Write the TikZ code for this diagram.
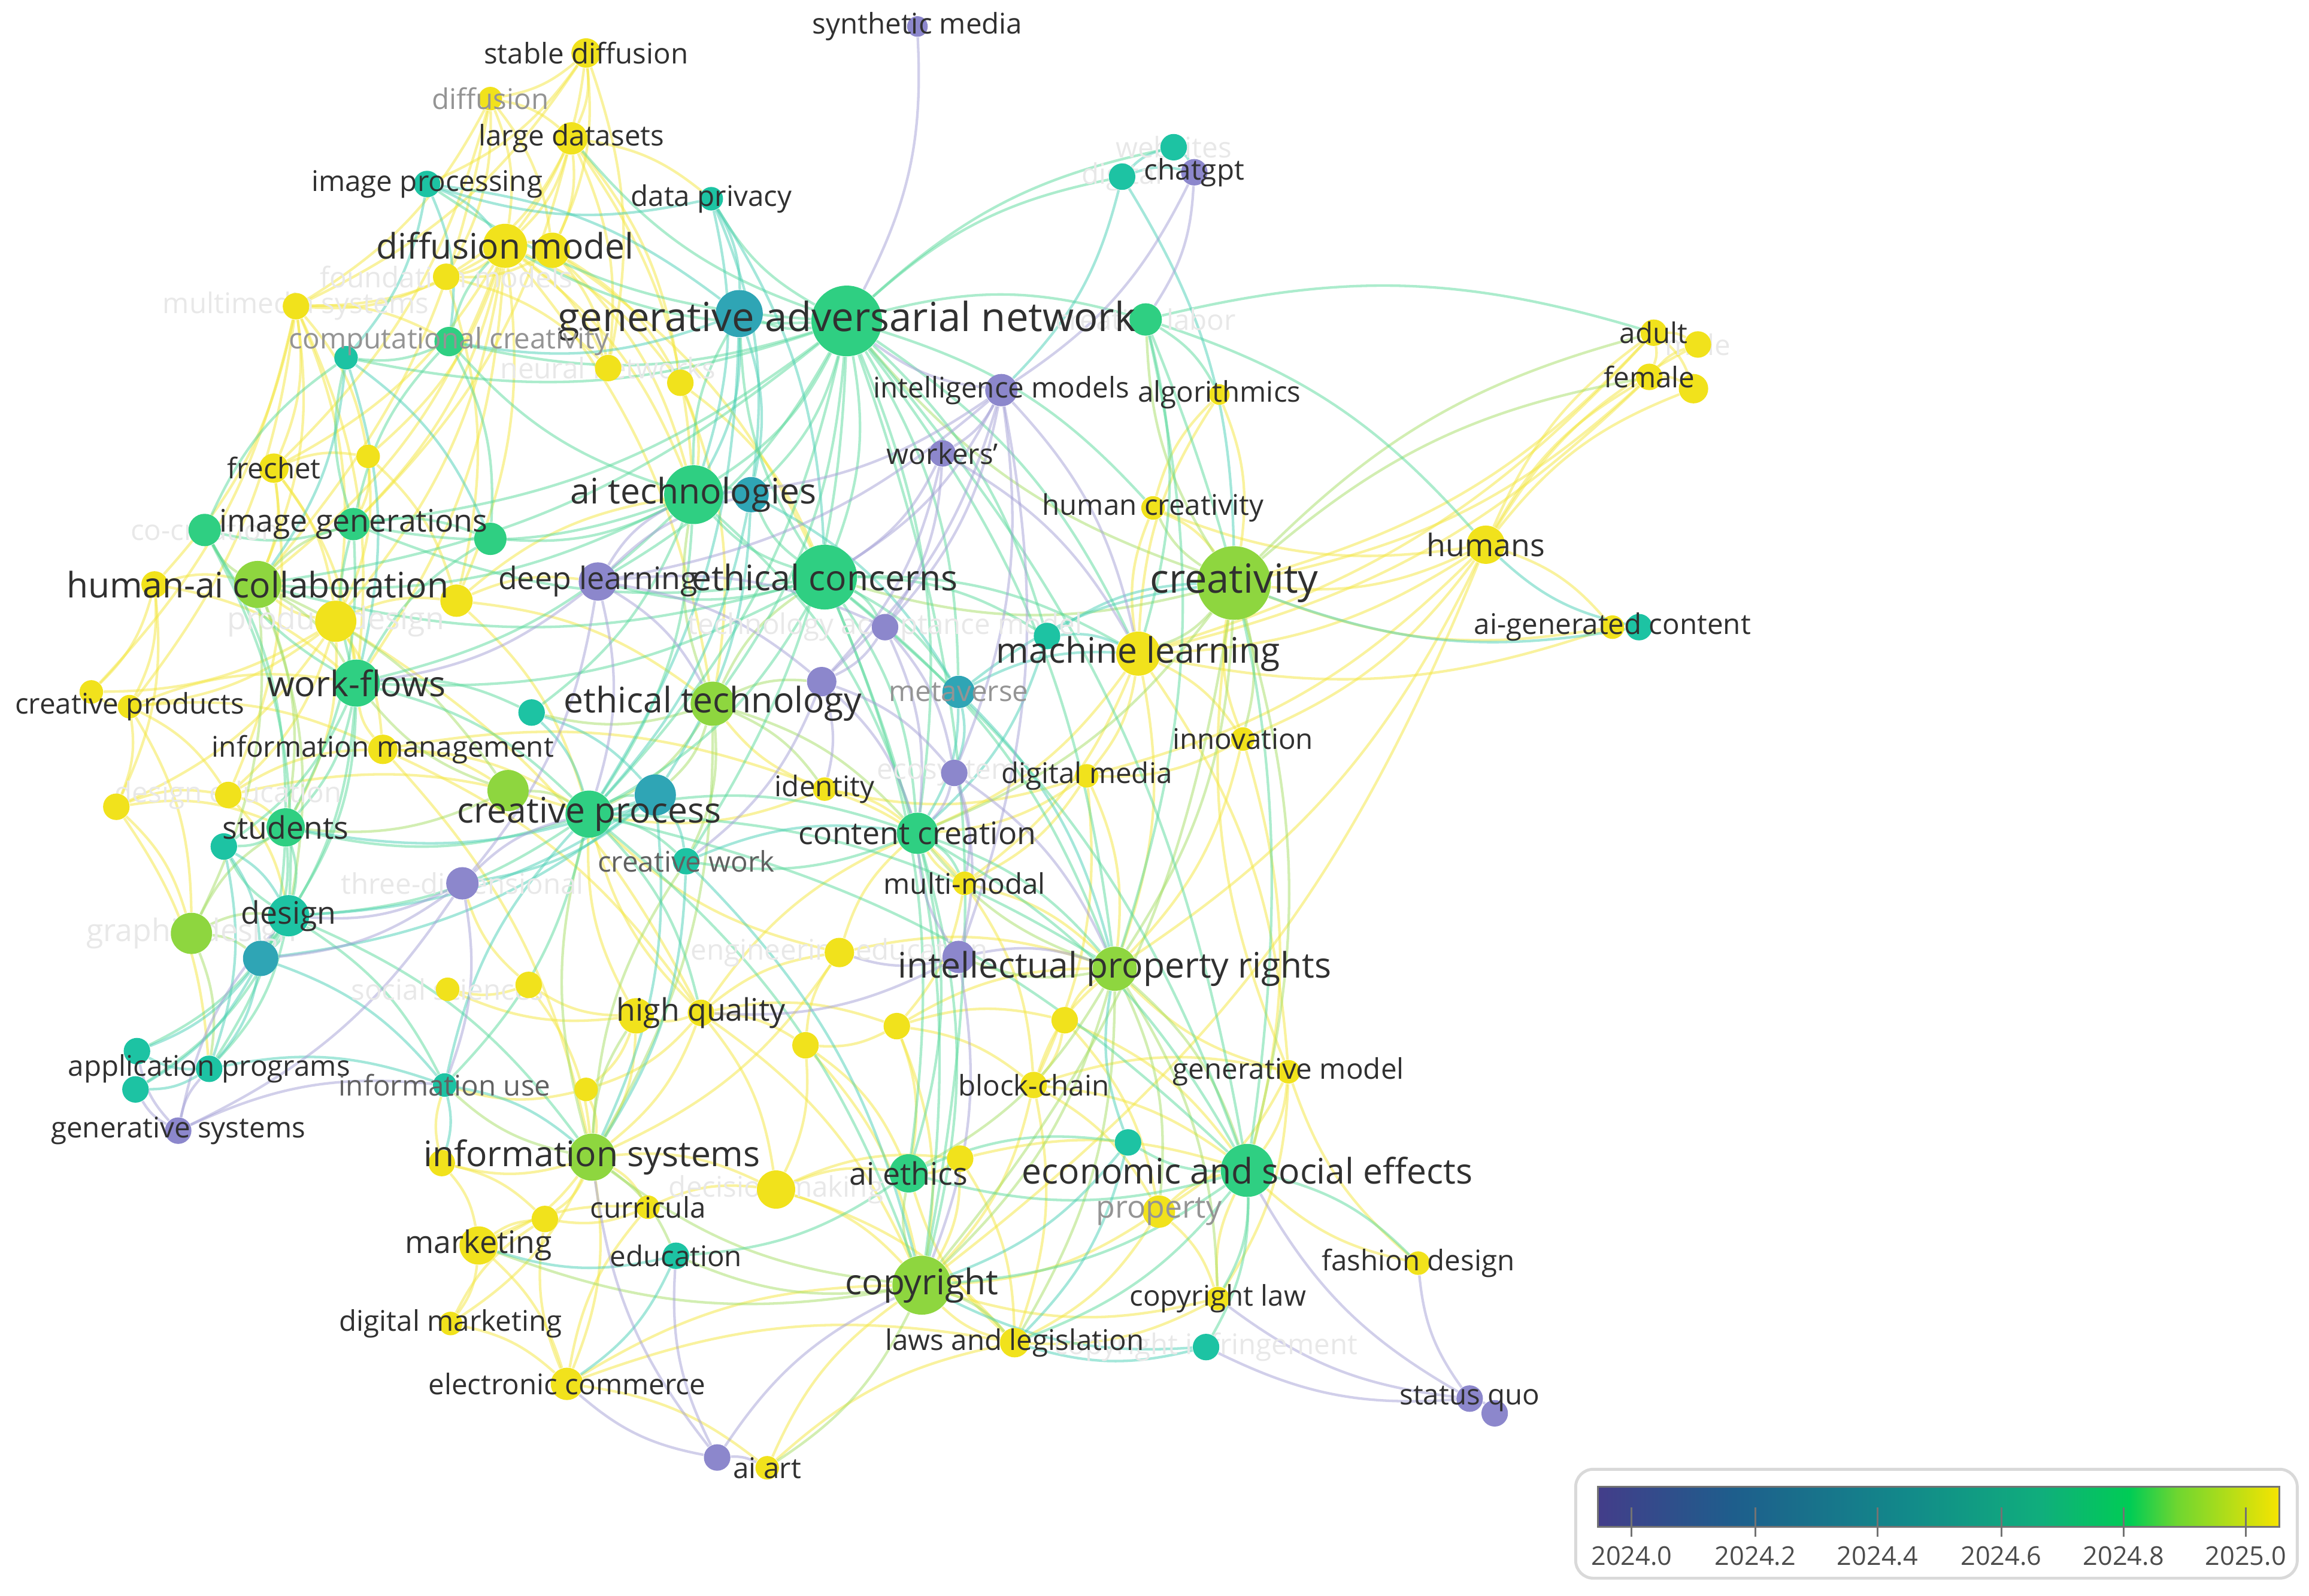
\documentclass[tikz,border=0pt]{standalone}
\usepackage{fontspec}
\setmainfont{Open Sans}
\usepackage{tikz}
\usetikzlibrary{arrows}
\pgfdeclarelayer{bg}
\pgfdeclarelayer{mid}
\pgfsetlayers{bg,mid,main}
\definecolor{colP}{HTML}{8C87CC}
\definecolor{colB}{HTML}{2FA5B5}
\definecolor{colT}{HTML}{1DC3A3}
\definecolor{colG}{HTML}{2FCF82}
\definecolor{colL}{HTML}{8ED63F}
\definecolor{colY}{HTML}{F1E21C}
\definecolor{labtext}{HTML}{303030}
\definecolor{bar0}{HTML}{433D8A}
\definecolor{bar1}{HTML}{1E5E8C}
\definecolor{bar2}{HTML}{12898A}
\definecolor{bar3}{HTML}{10AE7C}
\definecolor{bar4}{HTML}{00CC55}
\definecolor{bar5}{HTML}{6FD630}
\definecolor{bar6}{HTML}{F7E400}
\pgfdeclarehorizontalshading{yearbar}{100bp}{color(0bp)=(bar0); color(25bp)=(bar0); color(35bp)=(bar1); color(47.5bp)=(bar2); color(57.5bp)=(bar3); color(64bp)=(bar4); color(67.5bp)=(bar5); color(75bp)=(bar6); color(100bp)=(bar6)}
\tikzset{
  kwdot/.style={circle, inner sep=0pt, draw=none},
  lab/.style={inner sep=0pt, text=labtext},
  labS/.style={lab, font=\fontsize{11}{13}\selectfont},
  labM/.style={lab, font=\fontsize{12}{14}\selectfont},
  labL/.style={lab, font=\fontsize{13.6}{16}\selectfont},
  labXL/.style={lab, font=\fontsize{15.5}{18}\selectfont},
  greyish/.style={text=black!42},
  darkgrey/.style={text=black!62},
  faint/.style={text=black!9},
  edge/.style={line width=0.35mm, opacity=0.5},
  edgeY/.style={edge, draw=colY!85!white},
  edgeL/.style={edge, draw=colL!80!white},
  edgeG/.style={edge, draw=colG!80!white},
  edgeT/.style={edge, draw=colT!80!white},
  edgeP/.style={edge, draw=colP!80!white},
  legendframe/.style={draw=black!15, line width=0.4mm, rounded corners=2.4mm},
  tickline/.style={draw=black!55, line width=0.25mm},
  yearlab/.style={inner sep=0pt, text=black!70, font=\fontsize{10}{12}\selectfont}
}
\newcommand{\kw}[5]{\node[kwdot, minimum size={#4*0.4mm}, fill=#5] (#1) at (#2,#3) {};}
\newcommand{\kwlab}[3]{\node[#1] (t-#2) at (#2) {#3};}

\begin{document}
\begin{tikzpicture}[x=0.2mm, y=-0.2mm]
\useasboundingbox (0,0) rectangle (1568,1084);

\kw{synmedia}{623}{18}{7}{colP}
\kw{stablediff}{398}{36}{10}{colY}
\kw{diffusion}{333}{67}{8}{colY}
\kw{largedata}{388}{94}{11}{colY}
\kw{imgproc}{290}{125}{9}{colT}
\kw{dataprivacy}{483}{135}{8}{colT}
\kw{websites}{797}{100}{9}{colT}
\kw{digital}{762}{120}{9}{colT}
\kw{chatgpt}{811}{117}{9}{colP}
\kw{diffmodel}{343}{167}{15}{colY}
\kw{foundation}{303}{188}{9}{colY}
\kw{multimedia}{201}{208}{9}{colY}
\kw{gan}{575}{218}{24}{colG}
\kw{creativelabor}{778}{217}{11}{colG}
\kw{compcreat}{305}{232}{10}{colG}
\kw{neural}{413}{250}{9}{colY}
\kw{intmodels}{680}{265}{11}{colP}
\kw{algorithmics}{828}{268}{7}{colY}
\kw{workers}{640}{308}{9}{colP}
\kw{frechet}{186}{318}{10}{colY}
\kw{aitech}{471}{336}{20}{colG}
\kw{humancreat}{783}{345}{8}{colY}
\kw{cocreation}{139}{360}{11}{colG}
\kw{imggen}{240}{356}{11}{colG}
\kw{humans}{1009}{370}{13}{colY}
\kw{adult}{1123}{226}{9}{colY}
\kw{male}{1153}{234}{9}{colY}
\kw{female}{1120}{256}{9}{colY}
\kw{creativity}{838}{396}{25}{colL}
\kw{humanai}{175}{397}{16}{colL}
\kw{deeplearn}{406}{395}{13}{colP}
\kw{ethconcerns}{560}{392}{22}{colG}
\kw{productdesign}{228}{422}{14}{colY}
\kw{tam}{601}{426}{9}{colP}
\kw{ml}{773}{444}{15}{colY}
\kw{aigc}{1095}{426}{8}{colY}
\kw{workflows}{242}{464}{16}{colG}
\kw{creativeprod}{88}{480}{8}{colY}
\kw{ethtech}{484}{478}{15}{colL}
\kw{metaverse}{651}{470}{11}{colB}
\kw{innovation}{844}{502}{8}{colY}
\kw{infomgmt}{260}{509}{10}{colY}
\kw{ecosystems}{648}{525}{9}{colP}
\kw{digitalmedia}{738}{527}{8}{colY}
\kw{designedu}{155}{540}{9}{colY}
\kw{creativeproc}{400}{553}{16}{colG}
\kw{identity}{560}{536}{8}{colY}
\kw{students}{194}{562}{13}{colG}
\kw{contentcreat}{623}{566}{14}{colG}
\kw{creativework}{466}{585}{9}{colT}
\kw{threedim}{314}{600}{11}{colP}
\kw{multimodal}{655}{600}{8}{colY}
\kw{graphicdesign}{130}{634}{14}{colL}
\kw{design}{196}{622}{14}{colT}
\kw{socialsci}{304}{672}{8}{colY}
\kw{engedu}{570}{647}{10}{colY}
\kw{ipr}{757}{658}{15}{colL}
\kw{highquality}{476}{688}{9}{colY}
\kw{appprog}{142}{726}{9}{colT}
\kw{infouse}{302}{737}{8}{colT}
\kw{blockchain}{702}{737}{9}{colY}
\kw{genmodel}{875}{728}{8}{colY}
\kw{gensystems}{121}{768}{9}{colP}
\kw{infosys}{402}{786}{16}{colL}
\kw{econ}{847}{795}{18}{colG}
\kw{aiethics}{617}{797}{13}{colG}
\kw{property}{787}{823}{11}{colY}
\kw{decision}{527}{808}{13}{colY}
\kw{curricula}{440}{820}{8}{colY}
\kw{marketing}{325}{846}{13}{colY}
\kw{education}{459}{853}{9}{colT}
\kw{fashion}{963}{858}{8}{colY}
\kw{copyright}{626}{873}{20}{colL}
\kw{copyrightlaw}{827}{882}{8}{colY}
\kw{digmarketing}{306}{899}{8}{colY}
\kw{laws}{689}{912}{10}{colY}
\kw{infringement}{819}{915}{9}{colT}
\kw{ecommerce}{385}{940}{11}{colY}
\kw{statusquo}{998}{950}{9}{colP}
\kw{aiart}{521}{997}{8}{colY}
\kw{u1}{375}{170}{12}{colY}
\kw{u2}{502}{213}{16}{colB}
\kw{u3}{235}{243}{8}{colT}
\kw{u4}{462}{260}{9}{colY}
\kw{u5}{250}{310}{8}{colY}
\kw{u6}{510}{336}{12}{colB}
\kw{u7}{333}{366}{11}{colG}
\kw{u8}{1150}{264}{10}{colY}
\kw{u9}{105}{397}{9}{colY}
\kw{u10}{310}{408}{11}{colY}
\kw{u11}{711}{432}{9}{colT}
\kw{u12}{1113}{426}{9}{colT}
\kw{u13}{62}{470}{8}{colY}
\kw{u14}{558}{463}{10}{colP}
\kw{u15}{361}{484}{9}{colT}
\kw{u16}{79}{548}{9}{colY}
\kw{u17}{345}{537}{14}{colL}
\kw{u18}{445}{540}{14}{colB}
\kw{u19}{152}{575}{9}{colT}
\kw{u20}{177}{651}{12}{colB}
\kw{u21}{359}{669}{9}{colY}
\kw{u22}{651}{650}{11}{colP}
\kw{u23}{432}{690}{12}{colY}
\kw{u24}{609}{697}{9}{colY}
\kw{u25}{547}{710}{9}{colY}
\kw{u26}{723}{693}{9}{colY}
\kw{u27}{398}{740}{8}{colY}
\kw{u28}{93}{714}{9}{colT}
\kw{u29}{92}{740}{9}{colT}
\kw{u30}{766}{776}{9}{colT}
\kw{u31}{300}{790}{9}{colY}
\kw{u32}{652}{787}{9}{colY}
\kw{u33}{370}{828}{9}{colY}
\kw{u34}{1015}{960}{9}{colP}
\kw{u35}{487}{990}{9}{colP}

\begin{pgfonlayer}{bg}
\foreach \a/\bs in {stablediff/{largedata,diffmodel,diffusion,u1,imgproc,multimedia,neural},
  diffusion/{largedata,diffmodel,multimedia,foundation,u1,frechet,humanai},
  largedata/{diffmodel,u1,foundation,neural,u4,dataprivacy,aitech,imggen},
  diffmodel/{foundation,multimedia,u1,u4,neural,frechet,u5,imggen,humanai,workflows,productdesign,u10,aitech,ethtech},
  u1/{foundation,neural,u4,aitech,ethconcerns},
  foundation/{multimedia,neural,u10},
  multimedia/{frechet,u5,humanai,u9,productdesign,creativeprod,u13,workflows,compcreat},
  frechet/{u5,humanai,productdesign,workflows,designedu},
  u5/{imggen,productdesign,u10},
  productdesign/{humanai,workflows,infomgmt,creativeprod,u13,designedu,u16,students,u10,highquality},
  u9/{creativeprod,u13,humanai,workflows,u16},
  creativeprod/{u13,workflows,infomgmt,u16,designedu,graphicdesign},
  u16/{designedu,graphicdesign,students,appprog},
  designedu/{infomgmt,students,design,creativeproc},
  infomgmt/{workflows,creativeproc,u17,infosys,highquality,identity},
  u10/{deeplearn,aitech,ethtech,creativeproc},
  u4/{aitech,ethconcerns,ethtech},
  humans/{adult,female,u8,male,aigc,creativity,ml,innovation,humancreat,digitalmedia,ipr,copyright},
  adult/{female,male,u8,creativity,ml},
  female/{u8,male,creativity,ml},
  aigc/{creativity,ml},
  ml/{humancreat,innovation,digitalmedia,contentcreat,multimodal,ipr,genmodel,algorithmics},
  innovation/{creativity,digitalmedia,ipr,econ},
  digitalmedia/{contentcreat,multimodal,identity,ipr,blockchain},
  identity/{contentcreat,creativeproc,ethtech,multimodal},
  multimodal/{contentcreat,ipr,u24,blockchain},
  highquality/{u23,infosys,u24,u25,u27,engedu,contentcreat,creativeproc,copyright,decision},
  u23/{infosys,u21,socialsci,u27,creativeproc},
  u21/{socialsci,infosys,threedim},
  u24/{ipr,u25,u26,blockchain,aiethics,copyright},
  u25/{engedu,aiethics,copyright,decision},
  u26/{ipr,blockchain,econ,property},
  u27/{infosys,infouse},
  engedu/{contentcreat,ipr,creativeproc,infosys},
  blockchain/{ipr,econ,copyright,laws,property,genmodel},
  genmodel/{econ,ipr,creativity,property,copyrightlaw},
  infosys/{u31,marketing,curricula,u33,decision,digmarketing,ecommerce},
  u31/{marketing,infouse,u33},
  marketing/{digmarketing,ecommerce,u33,curricula},
  digmarketing/{ecommerce,u33},
  ecommerce/{aiart,u33,curricula,copyright,laws},
  curricula/{decision,u33},
  decision/{aiethics,copyright,u32,laws},
  u32/{aiethics,copyright,laws,econ},
  property/{econ,copyright,laws,copyrightlaw},
  copyrightlaw/{econ,laws,copyright},
  laws/{copyright,aiethics},
  aiart/{copyright,laws},
  fashion/{econ,genmodel},
  humancreat/{creativity,algorithmics},
  algorithmics/{creativity}}
  \foreach \b in \bs
    \draw[edgeY] (\a) to[bend left=15] (\b);
\foreach \a/\bs in {creativity/{ml,humancreat,ipr,econ,copyright,contentcreat,innovation,adult,female,creativelabor,gan,ethconcerns},
  humanai/{cocreation,imggen,students,design,graphicdesign,u17,workflows},
  ethtech/{u15,u18,creativework,u14,contentcreat,identity,infosys,creativeproc,aitech,ethconcerns},
  ipr/{econ,copyright,u22,aiethics,laws,copyrightlaw,property,contentcreat},
  copyright/{aiethics,laws,infosys,marketing,aiart,education},
  infosys/{infouse,education,creativework,u23,creativeproc},
  graphicdesign/{students,design,u20,appprog},
  u17/{creativeproc,students,workflows}}
  \foreach \b in \bs
    \draw[edgeL] (\a) to[bend left=15] (\b);
\foreach \a/\bs in {gan/{u2,dataprivacy,imgproc,diffmodel,largedata,creativelabor,digital,websites,aitech,u6,ethconcerns,ethtech,creativeproc,compcreat,u3,imggen,deeplearn,humanai,ml,contentcreat,metaverse,econ,ipr,copyright,u11,humancreat,creativework},
  creativelabor/{ml,humans,econ,adult,algorithmics,ipr},
  ethconcerns/{aitech,u6,deeplearn,creativeproc,contentcreat,tam,metaverse,ml,ipr,econ,copyright,aiethics,imggen,humanai,workflows,u2,u11},
  aitech/{u6,imggen,u7,workflows,humanai,compcreat,u2,u15,contentcreat,creativeproc},
  workflows/{imggen,u7,students,design,creativeproc,u15,cocreation,u19,u20},
  imggen/{cocreation,u7,compcreat,u3,students},
  cocreation/{u3,students,design},
  creativeproc/{u18,students,design,contentcreat,creativework,copyright,ipr,infouse,highquality,econ},
  students/{design,u19,u20,appprog},
  design/{u20,u19,appprog,u28,u29,infouse,infosys},
  contentcreat/{ipr,copyright,aiethics,econ,creativework,multimodal},
  econ/{u30,copyright,aiethics,laws,infringement,fashion,copyrightlaw},
  aiethics/{u30,education},
  compcreat/{u3,u7,diffmodel}}
  \foreach \b in \bs
    \draw[edgeG] (\a) to[bend left=15] (\b);
\foreach \a/\bs in {dataprivacy/{imgproc,u2,aitech,ethconcerns,u6},
  imgproc/{diffmodel,u2,u3,compcreat},
  digital/{websites,chatgpt,intmodels,creativity},
  websites/{chatgpt},
  u3/{u7,workflows,humanai},
  u2/{aitech,u6,compcreat,creativeproc},
  u6/{creativeproc,u18,metaverse},
  u11/{ml,creativity,contentcreat},
  metaverse/{ml,contentcreat,ecosystems,ipr,creativity},
  u15/{creativeproc,u18},
  u18/{creativeproc,design,u20,creativework,threedim,infosys,students},
  u19/{design,u20,appprog},
  u20/{u28,u29,appprog,infouse},
  appprog/{u28,u29,infouse},
  infouse/{infosys,u31,creativeproc},
  creativework/{contentcreat,copyright,infosys},
  u30/{ipr,laws,copyright},
  infringement/{laws,copyright},
  education/{ecommerce,marketing},
  u12/{humans,creativity}}
  \foreach \b in \bs
    \draw[edgeT] (\a) to[bend left=15] (\b);
\foreach \a/\bs in {synmedia/{gan},
  chatgpt/{creativelabor,intmodels},
  intmodels/{gan,workers,ethconcerns,tam,u14,deeplearn,ecosystems,ml,u22,aitech},
  workers/{ethconcerns,tam,u14,ml},
  deeplearn/{aitech,ethtech,u14,tam,creativeproc,threedim,u6,workflows},
  tam/{u14,ecosystems,contentcreat},
  u14/{ecosystems,identity,creativework,contentcreat},
  ecosystems/{contentcreat,multimodal,u22,ipr},
  u22/{ipr,engedu,contentcreat,highquality,copyright},
  threedim/{design,u20,gensystems,creativeproc,infouse},
  gensystems/{appprog,u28,u29,infouse,design},
  statusquo/{u34,fashion,econ,copyrightlaw,infringement},
  u35/{aiart,education,ecommerce,copyright,infosys}}
  \foreach \b in \bs
    \draw[edgeP] (\a) to[bend left=15] (\b);
\end{pgfonlayer}

\begin{pgfonlayer}{mid}
\kwlab{labS, faint}{websites}{websites}
\kwlab{labS, faint}{digital}{digital}
\kwlab{labS, faint}{foundation}{foundation models}
\kwlab{labS, faint}{multimedia}{multimedia systems}
\kwlab{labS, faint}{creativelabor}{creative labor}
\kwlab{labS, faint}{neural}{neural networks}
\kwlab{labS, faint}{cocreation}{co-creation}
\kwlab{labS, faint}{male}{male}
\kwlab{labM, faint}{productdesign}{product design}
\kwlab{labS, faint}{tam}{technology acceptance model}
\kwlab{labS, faint}{ecosystems}{ecosystems}
\kwlab{labS, faint}{designedu}{design education}
\kwlab{labS, faint}{threedim}{three-dimensional}
\kwlab{labM, faint}{graphicdesign}{graphic design}
\kwlab{labS, faint}{socialsci}{social sciences}
\kwlab{labS, faint}{engedu}{engineering education}
\kwlab{labS, faint}{decision}{decision making}
\kwlab{labS, faint}{infringement}{copyright infringement}
\end{pgfonlayer}

\kwlab{labXL}{gan}{generative adversarial network}
\kwlab{labXL}{creativity}{creativity}
\kwlab{labL}{diffmodel}{diffusion model}
\kwlab{labL}{aitech}{ai technologies}
\kwlab{labL}{humanai}{human-ai collaboration}
\kwlab{labL}{ethconcerns}{ethical concerns}
\kwlab{labL}{ml}{machine learning}
\kwlab{labL}{workflows}{work-flows}
\kwlab{labL}{ethtech}{ethical technology}
\kwlab{labL}{creativeproc}{creative process}
\kwlab{labL}{ipr}{intellectual property rights}
\kwlab{labL}{infosys}{information systems}
\kwlab{labL}{econ}{economic and social effects}
\kwlab{labL}{copyright}{copyright}
\kwlab{labM}{imggen}{image generations}
\kwlab{labM}{humans}{humans}
\kwlab{labM}{deeplearn}{deep learning}
\kwlab{labM}{students}{students}
\kwlab{labM}{contentcreat}{content creation}
\kwlab{labM}{design}{design}
\kwlab{labM}{highquality}{high quality}
\kwlab{labM}{marketing}{marketing}
\kwlab{labM}{aiethics}{ai ethics}
\kwlab{labM, greyish}{property}{property}
\kwlab{labS}{synmedia}{synthetic media}
\kwlab{labS}{stablediff}{stable diffusion}
\kwlab{labS, greyish}{diffusion}{diffusion}
\kwlab{labS}{largedata}{large datasets}
\kwlab{labS}{imgproc}{image processing}
\kwlab{labS}{dataprivacy}{data privacy}
\kwlab{labS}{chatgpt}{chatgpt}
\kwlab{labS, greyish}{compcreat}{computational creativity}
\kwlab{labS}{intmodels}{intelligence models}
\kwlab{labS}{algorithmics}{algorithmics}
\kwlab{labS}{workers}{workers'}
\kwlab{labS}{frechet}{frechet}
\kwlab{labS}{humancreat}{human creativity}
\kwlab{labS}{adult}{adult}
\kwlab{labS}{female}{female}
\kwlab{labS}{aigc}{ai-generated content}
\kwlab{labS}{creativeprod}{creative products}
\kwlab{labS, greyish}{metaverse}{metaverse}
\kwlab{labS}{innovation}{innovation}
\kwlab{labS}{infomgmt}{information management}
\kwlab{labS}{digitalmedia}{digital media}
\kwlab{labS}{identity}{identity}
\kwlab{labS, darkgrey}{creativework}{creative work}
\kwlab{labS}{multimodal}{multi-modal}
\kwlab{labS}{appprog}{application programs}
\kwlab{labS, darkgrey}{infouse}{information use}
\kwlab{labS}{blockchain}{block-chain}
\kwlab{labS}{genmodel}{generative model}
\kwlab{labS}{gensystems}{generative systems}
\kwlab{labS}{curricula}{curricula}
\kwlab{labS}{education}{education}
\kwlab{labS}{fashion}{fashion design}
\kwlab{labS}{copyrightlaw}{copyright law}
\kwlab{labS}{digmarketing}{digital marketing}
\kwlab{labS}{laws}{laws and legislation}
\kwlab{labS}{ecommerce}{electronic commerce}
\kwlab{labS}{statusquo}{status quo}
\kwlab{labS}{aiart}{ai art}

\draw[legendframe] (1070,998) rectangle (1560,1072);
\shade[shading=yearbar] (1085,1010) rectangle (1548,1037);
\draw[draw=black!55, line width=0.25mm] (1085,1010) rectangle (1548,1037);
\foreach \tx/\yr in {1108/2024.0, 1192/2024.2, 1275/2024.4, 1359/2024.6, 1442/2024.8, 1525/2025.0} {
  \draw[tickline] (\tx,1024) -- (\tx,1044);
  \node[yearlab] (yr\tx) at (\tx,1057) {\yr};
}
\end{tikzpicture}
\end{document}
